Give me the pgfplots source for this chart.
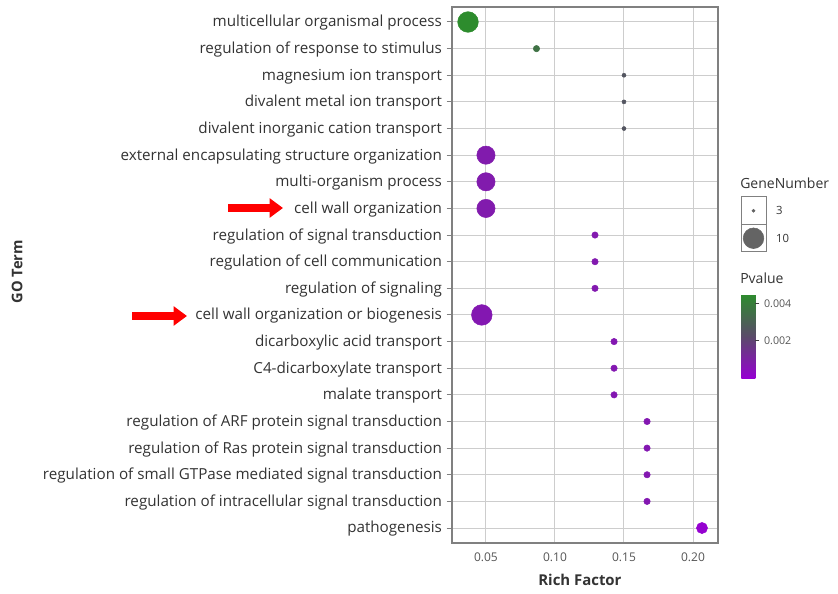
\documentclass[border=0pt]{standalone}
\usepackage{pgfplots}
\pgfplotsset{compat=1.18}
\usepackage{pgfplotstable}
\usepackage{fontspec}
\setmainfont{Open Sans}
\usetikzlibrary{arrows.meta}

\definecolor{labelgray}{RGB}{51,51,51}
\definecolor{tickgray}{RGB}{85,85,85}
\definecolor{gridgray}{RGB}{205,205,205}
\definecolor{framegray}{RGB}{128,128,128}
\definecolor{sizegray}{RGB}{100,100,100}

% GO enrichment: row index (top to bottom), rich factor, gene number, p value
\pgfplotstableread{
row x      n  p
0   0.0370 10 0.00450
1   0.0866 4  0.00360
2   0.1500 3  0.00260
3   0.1500 3  0.00260
4   0.1500 3  0.00260
5   0.0500 9  0.00080
6   0.0500 9  0.00080
7   0.0500 9  0.00080
8   0.1290 4  0.00075
9   0.1290 4  0.00075
10  0.1290 4  0.00075
11  0.0470 10 0.00070
12  0.1428 4  0.00070
13  0.1428 4  0.00070
14  0.1428 4  0.00070
15  0.1667 4  0.00070
16  0.1667 4  0.00070
17  0.1667 4  0.00070
18  0.1667 4  0.00070
19  0.2065 6  0.00005
}\goterms

\begin{document}
\begin{tikzpicture}
\useasboundingbox (0pt,0pt) rectangle (628.5pt,444.75pt);

\begin{axis}[
  at={(339pt,37.5pt)}, anchor=south west,
  scale only axis, width=199.5pt, height=402pt,
  xmin=0.0254, xmax=0.2181,
  ymin=-0.563, ymax=19.563, y dir=reverse,
  xtick={0.05,0.10,0.15,0.20},
  xticklabels={0.05,0.10,0.15,0.20},
  ytick={0,...,19},
  yticklabels={
    multicellular organismal process,
    regulation of response to stimulus,
    magnesium ion transport,
    divalent metal ion transport,
    divalent inorganic cation transport,
    external encapsulating structure organization,
    multi-organism process,
    cell wall organization,
    regulation of signal transduction,
    regulation of cell communication,
    regulation of signaling,
    cell wall organization or biogenesis,
    dicarboxylic acid transport,
    C4-dicarboxylate transport,
    malate transport,
    regulation of ARF protein signal transduction,
    regulation of Ras protein signal transduction,
    regulation of small GTPase mediated signal transduction,
    regulation of intracellular signal transduction,
    pathogenesis},
  grid=major,
  major grid style={gridgray, line width=0.75pt},
  axis line style={framegray, line width=1pt},
  tick align=outside,
  xtick style={draw=none},
  ytick pos=left,
  ytick style={framegray, line width=0.75pt},
  major tick length=4pt,
  yticklabel style={font=\fontsize{11.4}{13}\selectfont, text=labelgray, yshift=-0.75pt},
  xticklabel style={font=\fontsize{9}{10}\selectfont, text=tickgray},
  xlabel={Rich Factor},
  ylabel={GO Term},
  xlabel style={at={(axis description cs:0.481,-0.069)}, anchor=center,
    font=\fontsize{11.2}{13}\selectfont\bfseries, text=labelgray},
  ylabel style={at={(axis description cs:-1.635,0.506)}, anchor=center,
    font=\fontsize{11}{13}\selectfont\bfseries, text=labelgray},
  colormap={pv}{rgb255=(150,0,210) rgb255=(90,75,105) rgb255=(45,140,45)},
  point meta min=0, point meta max=0.0045,
  colorbar,
  colorbar style={
    at={(parent axis.north east)}, anchor=north west,
    xshift=9pt, yshift=-215.25pt,
    width=10.5pt, height=63pt,
    ytick={0.002,0.004},
    yticklabels={0.002,0.004},
    scaled y ticks=false,
    yticklabel pos=right,
    ytick pos=right,
    tick align=outside,
    major tick length=3pt,
    ytick style={black!75, line width=0.6pt},
    axis line style={draw=none},
    yticklabel style={font=\fontsize{8}{9}\selectfont, text=tickgray},
  },
]
\addplot[
  scatter, only marks, mark=*,
  point meta=explicit,
  scatter/use mapped color={draw=mapped color, fill=mapped color},
  visualization depends on={1.5+0.89*(\thisrow{n}-3) \as \msize},
  scatter/@pre marker code/.append style={/tikz/mark size=\msize pt},
] table[x=x, y=row, meta=p] {\goterms};
\end{axis}

% gene number key
\node[anchor=west, font=\fontsize{10.5}{12}\selectfont, text=labelgray, inner sep=0pt]
  at (555pt,307.5pt) {GeneNumber};
\begin{axis}[
  at={(555.75pt,255.75pt)}, anchor=south west,
  scale only axis, width=18.75pt, height=41.25pt,
  xmin=0, xmax=1, ymin=0, ymax=2,
  xtick=\empty,
  ytick={0.5,1.5}, yticklabels={10,3},
  yticklabel pos=right,
  ytick style={draw=none},
  yticklabel style={font=\fontsize{8.5}{10}\selectfont, text=labelgray, anchor=west, xshift=4pt},
  axis line style={framegray, line width=0.75pt},
  extra y ticks={1}, extra y tick labels={},
  extra y tick style={grid=major, major grid style={framegray, line width=0.75pt}},
  clip=false,
]
\addplot[only marks, mark=*, mark size=1.2pt, color=sizegray] coordinates {(0.5,1.5)};
\addplot[only marks, mark=*, mark size=7.73pt, color=sizegray] coordinates {(0.5,0.5)};
\end{axis}

\node[anchor=west, font=\fontsize{10.5}{12}\selectfont, text=labelgray, inner sep=0pt]
  at (555pt,236.25pt) {Pvalue};

% highlighted terms
\draw[red, line width=6pt, -{Triangle[length=10pt,width=14pt]}] (171pt,288.75pt) -- (212.25pt,288.75pt);
\draw[red, line width=6pt, -{Triangle[length=10pt,width=14pt]}] (99pt,207.75pt) -- (140.25pt,207.75pt);
\end{tikzpicture}
\end{document}
